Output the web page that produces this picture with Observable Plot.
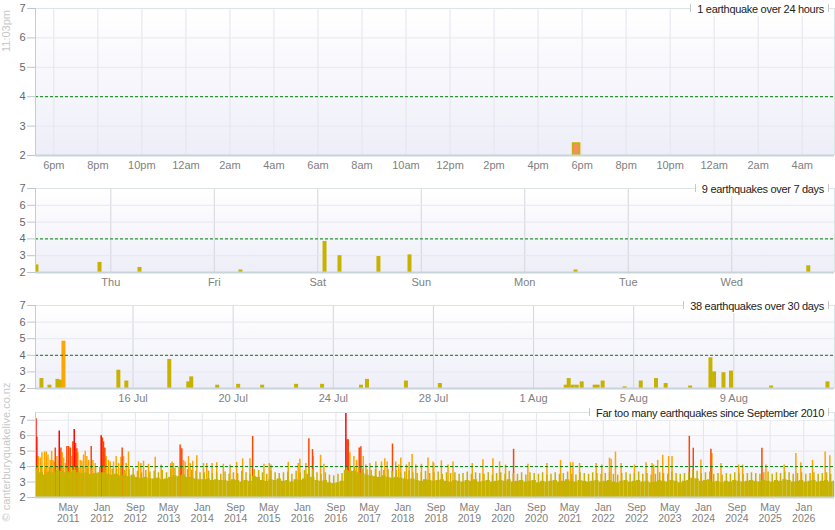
<!DOCTYPE html>
<html><head><meta charset="utf-8">
<script src="https://cdn.jsdelivr.net/npm/d3@7"></script>
<script src="https://cdn.jsdelivr.net/npm/@observablehq/plot@0.6"></script>
<style>
body{margin:0;background:#fff;font-family:"Liberation Sans",Arial,sans-serif;}
#root{position:relative;width:835px;height:530px;overflow:hidden;background:#fff;}
#root svg{position:absolute;left:0;}
.title{position:absolute;right:6px;background:#fff;font-size:11px;color:#222;padding:0 5px 0 7px;height:13px;line-height:13px;letter-spacing:-0.3px;white-space:nowrap;}
.title::before,.title::after{content:"";position:absolute;top:1px;width:1px;height:8px;background:#c8c8c8;}
.title::before{left:0}.title::after{right:0}
.vtext{position:absolute;transform:translate(-50%,-50%) rotate(-90deg);font-size:11px;color:#c8c8c8;white-space:nowrap;}
</style></head><body><div id="root"></div><script>
// ---------- data: recent earthquakes (last 30 days) ----------
const quakeTimes = ["2026-07-12 08:12","2026-07-12 15:52","2026-07-12 23:33","2026-07-13 02:24","2026-07-13 05:17",
"2026-07-15 09:56","2026-07-15 17:35","2026-07-17 10:45","2026-07-18 04:57","2026-07-18 07:48","2026-07-19 08:42",
"2026-07-20 04:48","2026-07-21 03:47","2026-07-22 12:20","2026-07-23 13:13","2026-07-25 02:34","2026-07-25 08:18",
"2026-07-26 21:39","2026-07-28 06:11","2026-08-02 06:49","2026-08-02 09:41","2026-08-02 13:31","2026-08-02 17:21",
"2026-08-02 22:08","2026-08-03 10:35","2026-08-03 13:26","2026-08-03 18:14","2026-08-04 15:17","2026-08-05 06:45",
"2026-08-05 21:23","2026-08-06 06:39","2026-08-07 06:04","2026-08-08 01:34","2026-08-08 05:02","2026-08-08 14:04",
"2026-08-08 21:16","2026-08-10 11:46","2026-08-12 17:45"];
const quakeMags = [2.6,2.2,2.55,2.5,4.85,3.1,2.45,3.75,2.4,2.7,2.2,2.25,2.2,2.25,2.25,2.2,2.55,2.45,2.3,2.2,2.6,2.2,2.2,
2.4,2.2,2.2,2.45,2.1,2.45,2.6,2.3,2.15,3.85,3.0,2.95,3.05,2.15,2.4];

// ---------- data: larger quakes since Sep 2010 (decimal year, magnitude) ----------
const spikeYears = [2010.683,2010.703,2010.730,2010.770,2010.803,2010.856,2010.889,2010.923,2010.969,2010.996,2011.022,2011.049,
2011.069,2011.102,2011.148,2011.181,2011.208,2011.235,2011.268,2011.301,2011.334,2011.367,2011.401,2011.420,2011.447,2011.474,
2011.500,2011.520,2011.567,2011.600,2011.633,2011.666,2011.699,2011.733,2011.786,2011.819,2011.865,2011.985,2012.011,2012.031,
2012.058,2012.085,2012.131,2012.164,2012.231,2012.284,2012.330,2012.377,2012.403,2012.430,2012.483,2012.529,2012.729,2012.775,
2012.828,2012.928,2013.061,2013.180,2013.373,2013.399,2013.426,2013.559,2013.592,2013.625,2013.658,2013.725,2013.758,2013.811,
2013.891,2014.024,2014.090,2014.196,2014.289,2014.422,2014.555,
2014.687,2014.807,2014.953,2015.006,2015.232,2015.338,2015.371,2015.717,2015.916,2015.949,2016.069,2016.128,2016.201,2016.215,
2016.361,2016.427,2016.865,2016.892,2016.912,2016.945,2017.025,2017.078,2017.131,2017.164,2017.211,2017.264,2017.343,2017.463,
2017.576,2017.642,2017.689,2017.795,2017.861,2017.921,2017.961,2018.074,2018.127,2018.187,2018.260,2018.373,2018.505,2018.605,
2018.618,2018.771,2018.904,2019.003,2019.388,2019.601,2019.800,2019.933,2020.052,2020.212,2020.497,2020.876,2021.148,2021.347,
2021.394,2021.527,2021.859,2021.971,2022.124,2022.157,2022.244,2022.357,
2022.622,2022.855,2022.974,2023.007,2023.087,2023.187,2023.306,2023.373,2023.718,2023.797,2023.950,2024.149,2024.169,2024.349,
2024.701,2024.780,2025.165,2025.245,2025.610,2025.843,2025.942,2026.175,2026.427,2026.520];
const spikeMags = [7.1,5.9,4.65,4.55,4.9,4.95,4.95,4.75,4.4,4.99,4.4,4.3,
5.2,4.65,6.3,5.2,4.9,4.55,4.2,5.3,5.3,5.2,4.65,5.6,6.4,5.5,
5.15,4.9,4.4,4.35,4.75,4.99,4.65,4.4,5.3,4.4,4.2,6.0,5.85,5.6,
5.2,4.65,4.4,4.3,4.3,4.65,4.2,4.6,5.2,4.65,4.2,4.95,4.3,4.2,
4.35,4.15,4.6,4.1,4.2,4.3,4.2,5.4,5.15,4.4,4.3,4.65,4.2,4.35,
4.7,4.2,4.2,4.2,4.25,4.15,4.1,
4.27,4.5,4.5,5.95,4.15,4.2,4.1,4.27,4.2,4.48,4.2,5.8,5.1,4.65,
4.73,4.15,7.8,5.73,5.73,4.9,4.65,4.4,5.2,5.28,4.65,4.1,4.2,4.3,
4.3,4.5,4.3,5.46,4.3,4.1,4.55,4.1,4.27,4.78,4.1,4.15,4.55,4.3,
4.2,4.37,4.1,4.3,4.2,4.45,4.5,4.3,4.1,5.12,4.15,4.2,4.4,4.25,
4.25,4.2,4.2,4.1,4.55,4.48,4.94,4.2,
4.1,4.25,4.2,4.1,4.4,4.73,4.65,4.65,5.96,5.19,4.43,5.12,4.85,4.2,
4.1,4.1,5.19,4.1,4.1,4.85,4.25,4.4,4.94,4.7];

// ---------- data: monthly level of smaller quakes, Sep 2010 .. Aug 2026 ----------
const oliveFirstMonth = "2010-09";
const oliveTyp = [
3.8,3.6,3.45,3.65,
3.6,3.75,3.7,3.6,3.65,3.75,3.6,3.55,3.6,3.5,3.55,3.6,
3.6,3.5,3.45,3.5,3.4,3.45,3.35,3.45,3.3,3.25,3.3,3.2,
3.2,3.25,3.15,3.2,3.3,3.4,3.35,3.45,3.3,3.3,3.2,3.15,
3.15,3.2,3.1,3.15,3.1,3.1,3.05,3.15,3.1,3.0,3.1,3.05,
3.35,3.3,3.1,3.05,3.15,3.1,3.2,3.05,3.1,3.0,3.15,3.1,
3.2,3.5,3.3,3.1,3.05,3.1,2.95,2.9,2.95,3.05,3.75,3.7,
3.7,3.6,3.55,3.45,3.4,3.35,3.3,3.4,3.3,3.25,3.3,3.25,
3.2,3.15,3.2,3.1,3.05,3.15,3.1,3.05,3.1,3.15,3.05,3.0,
3.1,3.05,3.0,3.1,3.05,3.15,3.0,3.05,3.1,3.0,3.05,3.1,
3.05,3.15,3.0,3.05,3.1,3.0,3.05,3.1,2.95,3.05,3.0,3.05,
3.1,3.0,3.05,3.15,3.05,3.0,3.1,3.05,3.0,3.05,3.1,3.0,
3.05,3.1,3.0,2.95,3.05,3.1,3.0,3.05,3.1,3.0,3.05,2.95,
3.0,3.1,3.05,3.0,3.1,3.05,2.95,3.05,3.1,3.25,3.2,3.05,
3.1,3.15,3.0,3.05,2.95,3.05,3.0,3.1,3.05,3.0,3.05,3.1,
3.05,3.0,3.1,3.05,3.0,3.1,3.05,3.15,3.1,3.0,3.05,3.1,
3.0,3.05,3.1,3.0,3.05,3.1,3.0,3.05];
const olivePeak = [
3.95,3.95,3.9,3.95,
3.95,3.95,3.95,3.9,3.95,3.95,3.9,3.95,3.9,3.85,3.9,3.95,
3.95,3.9,3.85,3.8,3.9,3.75,3.8,3.9,3.7,3.6,3.75,3.65,
3.7,3.6,3.75,3.6,3.8,3.9,3.95,3.9,3.8,3.75,3.7,3.6,
3.6,3.7,3.55,3.6,3.5,3.65,3.5,3.6,3.55,3.7,3.6,3.5,
3.8,3.75,3.6,3.5,3.7,3.6,3.55,3.6,3.65,3.5,3.7,3.6,
3.75,3.9,3.8,3.6,3.5,3.6,3.45,3.4,3.5,3.55,3.95,3.95,
3.95,3.9,3.85,3.8,3.75,3.8,3.7,3.75,3.8,3.7,3.75,3.6,
3.65,3.7,3.6,3.55,3.6,3.7,3.55,3.6,3.65,3.5,3.6,3.55,
3.6,3.5,3.55,3.65,3.5,3.6,3.55,3.5,3.6,3.45,3.55,3.6,
3.5,3.7,3.55,3.5,3.6,3.45,3.6,3.55,3.5,3.6,3.45,3.5,
3.6,3.5,3.55,3.65,3.5,3.45,3.6,3.55,3.5,3.6,3.55,3.5,
3.55,3.6,3.5,3.45,3.55,3.6,3.5,3.55,3.65,3.5,3.55,3.45,
3.5,3.6,3.55,3.5,3.65,3.55,3.5,3.55,3.6,3.75,3.7,3.55,
3.6,3.65,3.5,3.55,3.45,3.55,3.5,3.6,3.55,3.5,3.55,3.6,
3.55,3.5,3.6,3.65,3.5,3.6,3.55,3.65,3.6,3.5,3.55,3.6,
3.5,3.55,3.6,3.5,3.55,3.6,3.5,3.55];

// ---------- axes: domains & ticks ----------
const domain24 = ["2026-08-11 17:10","2026-08-13 05:28"];
const ticks24 = ["2026-08-11 18:00","2026-08-11 20:00","2026-08-11 22:00","2026-08-12 00:00","2026-08-12 02:00","2026-08-12 04:00",
"2026-08-12 06:00","2026-08-12 08:00","2026-08-12 10:00","2026-08-12 12:00","2026-08-12 14:00","2026-08-12 16:00",
"2026-08-12 18:00","2026-08-12 20:00","2026-08-12 22:00","2026-08-13 00:00","2026-08-13 02:00","2026-08-13 04:00"];
const domain7 = ["2026-08-05 06:32","2026-08-12 23:50"];
const ticks7 = ["2026-08-06 00:00","2026-08-07 00:00","2026-08-08 00:00","2026-08-09 00:00","2026-08-10 00:00","2026-08-11 00:00","2026-08-12 00:00"];
const domain30 = ["2026-07-12 02:30","2026-08-13 00:30"];
const ticks30 = ["2026-07-16 00:00","2026-07-20 00:00","2026-07-24 00:00","2026-07-28 00:00","2026-08-01 00:00","2026-08-05 00:00","2026-08-09 00:00"];
const domainAll = ["2010-09-04 00:00","2026-08-13 00:00"];
const ticksAll = ["2011-05","2012-01","2012-09","2013-05","2014-01","2014-09","2015-05","2016-01","2016-09","2017-05","2018-01",
"2018-09","2019-05","2020-01","2020-09","2021-05","2022-01","2022-09","2023-05","2024-01","2024-09","2025-05","2026-01"];
const yTicks = [2,3,4,5,6,7];
const titles = ["1 earthquake over 24 hours","9 earthquakes over 7 days","38 earthquakes over 30 days","Far too many earthquakes since September 2010"];

// ---------- build ----------
const FONT = '"Liberation Sans", Arial, sans-serif';
const OLIVE = "#c8b200";
const magColor = m => m >= 6 ? "#ff0000" : m >= 5 ? "#ff4500" : m >= 4 ? "#ffa500" : OLIVE;
const pT = d3.timeParse("%Y-%m-%d %H:%M"), pM = d3.timeParse("%Y-%m");
const fromDecYear = v => { const y = Math.floor(v), a = new Date(y,0,1), b = new Date(y+1,0,1); return new Date(+a + (v-y)*(b-a)); };

const quakes = quakeTimes.map((t,i) => ({time: pT(t), mag: quakeMags[i]}));
const spikes = spikeYears.map((v,i) => ({date: fromDecYear(v), mag: spikeMags[i]}))
  .sort((a,b) => a.mag - b.mag);
const m0 = pM(oliveFirstMonth);
const olive = oliveTyp.map((v,i) => {
  const s = d3.timeMonth.offset(m0, i);
  return {start: s, end: d3.timeMonth.offset(m0, i+1), mid: d3.timeDay.offset(s, 15), typ: v, peak: olivePeak[i]};
});

const root = document.getElementById("root");
const ns = "http://www.w3.org/2000/svg";
function addGradient(svg, id) {
  const defs = document.createElementNS(ns, "defs");
  const lg = document.createElementNS(ns, "linearGradient");
  lg.setAttribute("id", id); lg.setAttribute("x1","0"); lg.setAttribute("y1","0"); lg.setAttribute("x2","0"); lg.setAttribute("y2","1");
  [["0%","#ffffff"],["100%","#eeeef9"]].forEach(([o,c]) => {
    const s = document.createElementNS(ns,"stop"); s.setAttribute("offset",o); s.setAttribute("stop-color",c); lg.appendChild(s);
  });
  defs.appendChild(lg); svg.insertBefore(defs, svg.firstChild);
}

function panel({id, top, height, mb, xDomain, yMax, xTicks, fmt, xFont, gridXStroke, marks, title}) {
  const [x0, x1] = xDomain;
  const svg = Plot.plot({
    width: 835, height, marginTop: 8, marginBottom: mb, marginLeft: 35, marginRight: 1,
    style: {background: "transparent", fontFamily: FONT, fontSize: "11px", overflow: "visible"},
    x: {type: "time", domain: xDomain, label: null},
    y: {domain: [2, yMax], label: null},
    color: {type: "identity"},
    marks: [
      Plot.frame({fill: `url(#${id})`, stroke: "none"}),
      Plot.gridX(xTicks, {stroke: gridXStroke, strokeOpacity: 1}),
      Plot.gridY(yTicks.filter(v => v > 2), {stroke: "#e6e8f0", strokeOpacity: 1}),
      ...marks,
      Plot.ruleY([4], {stroke: "#008000", strokeDasharray: "3,2"}),
      Plot.ruleY([yMax], {stroke: "#dde4e6"}),
      Plot.ruleX([x1], {stroke: "#dde4e6"}),
      Plot.ruleX([x0], {stroke: "#c2ced3"}),
      Plot.ruleY([2], {stroke: "#c8d4da", strokeWidth: 2}),
      Plot.axisY(yTicks, {tickSize: 8, tickPadding: 2, stroke: "#bcc8cd", fill: "#666", fontSize: 11, label: null}),
      Plot.axisX(xTicks, {tickSize: 0, tickPadding: 5, tickFormat: fmt, fill: "#808080", fontSize: xFont, lineHeight: 1.08, label: null})
    ]
  });
  addGradient(svg, id);
  svg.style.top = top + "px";
  root.appendChild(svg);
  const t = document.createElement("div");
  t.className = "title"; t.textContent = title; t.style.top = (top + 8 - 5) + "px";
  root.appendChild(t);
}

const inDomain = (dom) => quakes.filter(d => d.time >= d3.timeMinute.offset(dom[0], -60) && d.time <= dom[1]);

// Panel 1: 24 hours
const d24 = domain24.map(pT);
panel({id: "g1", top: 0, height: 180, mb: 25, xDomain: d24, yMax: 7, xTicks: ticks24.map(pT),
  fmt: d => d3.timeFormat("%-I%p")(d).toLowerCase(), xFont: 11, gridXStroke: "#e3e5ec", title: titles[0],
  marks: [Plot.rect(inDomain(d24), {x1: d => d3.timeMinute.offset(d.time, -9), x2: d => d3.timeMinute.offset(d.time, 9),
    y1: 2, y2: "mag", fill: "#f98b6b", stroke: OLIVE, strokeWidth: 2, clip: true})]});

// Panel 2: 7 days
const d7 = domain7.map(pT);
panel({id: "g2", top: 180, height: 117, mb: 25, xDomain: d7, yMax: 7, xTicks: ticks7.map(pT),
  fmt: d3.timeFormat("%a"), xFont: 11, gridXStroke: "#d4d6dc", title: titles[1],
  marks: [Plot.ruleX(inDomain(d7), {x: "time", y1: 2, y2: "mag", stroke: d => magColor(d.mag), strokeWidth: 4, clip: true})]});

// Panel 3: 30 days
const d30 = domain30.map(pT);
panel({id: "g3", top: 297, height: 108, mb: 17, xDomain: d30, yMax: 7, xTicks: ticks30.map(pT),
  fmt: d3.timeFormat("%-d %b"), xFont: 11, gridXStroke: "#d4d6dc", title: titles[2],
  marks: [Plot.ruleX(inDomain(d30), {x: "time", y1: 2, y2: "mag", stroke: d => magColor(d.mag), strokeWidth: 4, clip: true})]});

// Panel 4: since Sep 2010
const dAll = domainAll.map(pT);
panel({id: "g4", top: 404, height: 126, mb: 33, xDomain: dAll, yMax: 7.5, xTicks: ticksAll.map(pM),
  fmt: d3.timeFormat("%b\n%Y"), xFont: 10.5, gridXStroke: "#e3e5ec", title: titles[3],
  marks: [
    Plot.ruleX(spikes, {x: "date", y1: 2, y2: "mag", stroke: d => magColor(d.mag), strokeWidth: 1.5, clip: true}),
    Plot.rect(olive, {x1: "start", x2: "end", y1: 2, y2: "typ", fill: OLIVE, clip: true}),
    Plot.ruleX(olive, {x: "mid", y1: 2, y2: "peak", stroke: OLIVE, strokeWidth: 1.5, clip: true})
  ]});

// vertical side texts
[["11:03pm", 6, 31], ["© canterburyquakelive.co.nz", 6, 452]].forEach(([txt, x, y]) => {
  const v = document.createElement("div");
  v.className = "vtext"; v.textContent = txt; v.style.left = x + "px"; v.style.top = y + "px";
  root.appendChild(v);
});
</script></body></html>
